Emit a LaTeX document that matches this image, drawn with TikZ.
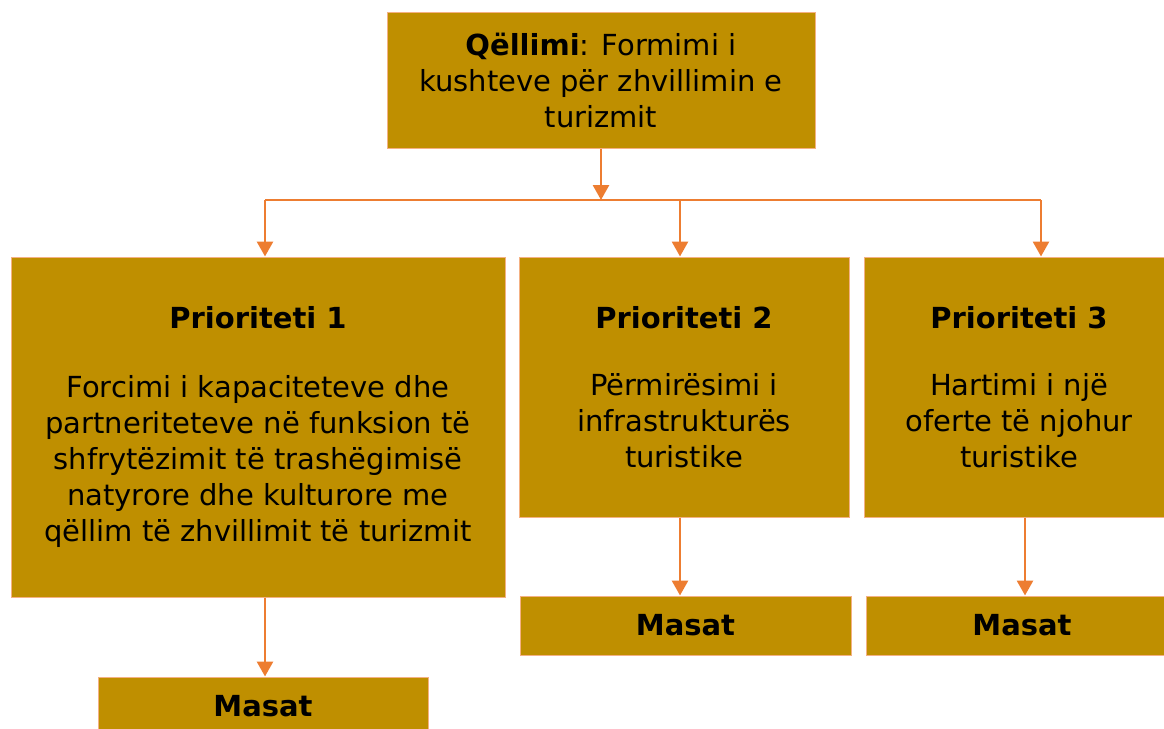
\documentclass[tikz,border=0pt]{standalone}
\usepackage{fontspec}
\setmainfont{DejaVu Sans}
\usetikzlibrary{arrows.meta,positioning}
\definecolor{Ochre}{HTML}{BF8F00}
\definecolor{Tangerine}{HTML}{ED7D31}
\definecolor{Apricot}{HTML}{F4B183}
\tikzset{
  block/.style={
    draw=Apricot, line width=1pt, fill=Ochre, text=black,
    inner sep=0pt, align=center, font=\fontsize{29}{36}\selectfont
  },
  measure/.style={
    block, minimum height=59pt, font=\fontsize{29}{36}\selectfont\bfseries
  },
  link/.style={line width=2.8pt, draw=Tangerine},
  flow/.style={link, -{Triangle[length=15pt,width=16pt]}}
}

\begin{document}
\begin{tikzpicture}[x=1pt,y=-1pt]
  \useasboundingbox (0,0) rectangle (1164,728);
  % goal
  \node[block, minimum width=428pt, minimum height=136pt] (goal) at (601,80)
    {\textbf{Qëllimi}: Formimi i\\kushteve për zhvillimin e\\turizmit};
  % priorities
  \node[block, minimum width=494pt, minimum height=340pt] (prio1) at (258,427)
    {\textbf{Prioriteti 1}\\[33pt]Forcimi i kapaciteteve dhe\\partneriteteve në funksion të\\shfrytëzimit të trashëgimisë\\natyrore dhe kulturore me\\qëllim të zhvillimit të turizmit};
  \node[block, minimum width=330pt, minimum height=260pt] (prio2) at (684,387)
    {\textbf{Prioriteti 2}\\[31pt]Përmirësimi i\\infrastrukturës\\turistike};
  \node[block, minimum width=310pt, minimum height=260pt] (prio3) at (1019,387)
    {\textbf{Prioriteti 3}\\[31pt]Hartimi i një\\oferte të njohur\\turistike};
  % measures
  \node[measure, minimum width=330pt] (masat1) at (263,706.5) {Masat};
  \node[measure, minimum width=331pt] (masat2) at (685.5,625.5) {Masat};
  \node[measure, minimum width=312pt] (masat3) at (1022,625.5) {Masat};
  % bus
  \coordinate (busL) at (265,200);
  \coordinate (busM) at (680,200);
  \coordinate (busR) at (1041,200);
  \draw[link] (busL) -- (busR);
  \draw[flow] (goal.south) -- (goal.south |- busL);
  \draw[flow] (busL) -- (busL |- prio1.north);
  \draw[flow] (busM) -- (busM |- prio2.north);
  \draw[flow] (busR) -- (busR |- prio3.north);
  \draw[flow] (busL |- prio1.south) -- (busL |- masat1.north);
  \draw[flow] (busM |- prio2.south) -- (busM |- masat2.north);
  \draw[flow] ([xshift=6pt]prio3.south) -- ([xshift=3pt]masat3.north);
\end{tikzpicture}
\end{document}
